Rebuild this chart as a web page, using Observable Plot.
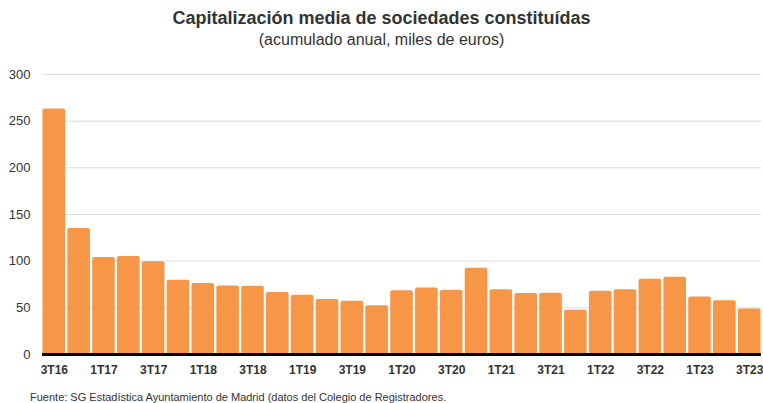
<!DOCTYPE html>
<html>
<head>
<meta charset="utf-8">
<script src="https://cdn.jsdelivr.net/npm/d3@7"></script>
<script src="https://cdn.jsdelivr.net/npm/@observablehq/plot@0.6"></script>
<style>
  body { margin: 0; background: #fff; font-family: "Liberation Sans", Arial, Helvetica, sans-serif; width: 763px; height: 403px; overflow: hidden; }
  #title { text-align: center; font-weight: bold; font-size: 18px; color: #333; height: 21px; line-height: 21px; padding-top: 8px; }
  #subtitle { text-align: center; font-size: 16px; color: #333; height: 22px; line-height: 22px; }
  #chart { height: 325px; margin-top: 7px; }
  #caption { font-size: 11px; color: #333; padding-left: 30px; line-height: 14px; margin-top: 7px; }
  svg { display: block; }
</style>
</head>
<body>
<div id="title">Capitalización media de sociedades constituídas</div>
<div id="subtitle">(acumulado anual, miles de euros)</div>
<div id="chart"></div>
<div id="caption">Fuente: SG Estadística Ayuntamiento de Madrid (datos del Colegio de Registradores.</div>
<script>
const quarters = ["3T16","4T16","1T17","2T17","3T17","4T17","1T18","2T18","3T18","4T18","1T19","2T19","3T19","4T19","1T20","2T20","3T20","4T20","1T21","2T21","3T21","4T21","1T22","2T22","3T22","4T22","1T23","2T23","3T23"];
const values = [263, 135, 104, 105, 99.5, 79.5, 76, 73.5, 73, 66.5, 63.5, 58.8, 57, 52.3, 68.3, 71.2, 68.8, 92.3, 69.5, 65.3, 65.5, 47.3, 67.7, 69.5, 80.5, 82.7, 61.5, 57.5, 48.8];
const tickLabels = ["3T16","1T17","3T17","1T18","3T18","1T19","3T19","1T20","3T20","1T21","3T21","1T22","3T22","1T23","3T23"];
const yTicks = [0, 50, 100, 150, 200, 250, 300];

const data = quarters.map((q, i) => ({q, v: values[i]}));

const chart = Plot.plot({
  width: 763,
  height: 325,
  marginTop: 16,
  marginBottom: 29,
  marginLeft: 42,
  marginRight: 2,
  style: {fontFamily: "'Liberation Sans', Arial, Helvetica, sans-serif", background: "#fff"},
  x: {domain: quarters, padding: 0.09, paddingOuter: 0.02, round: false, label: null},
  y: {domain: [0, 300], label: null},
  marks: [
    Plot.gridY(yTicks, {stroke: "#dcdcdc", strokeOpacity: 1, strokeWidth: 1}),
    Plot.barY(data, {x: "q", y: "v", fill: "#F79646", rx: 2}),
    Plot.ruleY([0], {stroke: "#000", strokeWidth: 3}),
    Plot.axisX(tickLabels, {tickSize: 0, tickPadding: 11, fontSize: 12, fontWeight: "bold", fill: "#333", label: null}),
    Plot.axisY(yTicks, {tickSize: 0, tickPadding: 12, fontSize: 13, fill: "#333", label: null})
  ]
});
document.getElementById("chart").appendChild(chart);
</script>
</body>
</html>
